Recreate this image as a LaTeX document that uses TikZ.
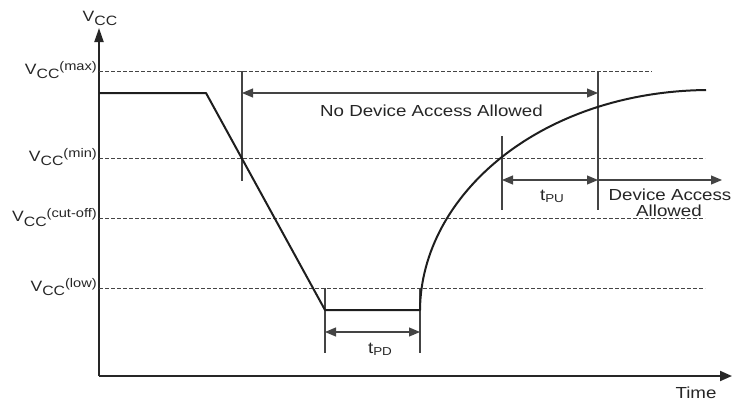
\documentclass[tikz,border=0pt]{standalone}
\usepackage{fontspec}
\setmainfont{Liberation Sans}[FakeStretch=1.17]
\usetikzlibrary{arrows.meta}
\definecolor{txt}{HTML}{262626}
\definecolor{ln}{HTML}{444444}
\definecolor{wave}{HTML}{1E1E1E}
\newcommand\vcclab[1]{V\raisebox{-4.5pt}{\fontsize{13.5}{13.5}\selectfont CC}\raisebox{4pt}{\fontsize{12.5}{12.5}\selectfont #1}}
\newcommand\tlab[1]{t\raisebox{-2.5pt}{\fontsize{11.5}{11.5}\selectfont #1}}
\begin{document}
\begin{tikzpicture}[x=1pt,y=-1pt,
  lab/.style={inner sep=0pt,text=txt,font=\fontsize{16}{17}\selectfont},
  vlab/.style={lab,font=\fontsize{15}{16}\selectfont,anchor=base east},
  axis/.style={line width=2pt,draw=black!85},
  guide/.style={line width=0.9pt,draw=ln,dash pattern=on 4pt off 2pt},
  marker/.style={line width=1.1pt,draw=ln},
  dim/.style={line width=1.1pt,draw=ln},
  tip/.tip={Triangle[length=11pt,width=9pt]},
  wavestyle/.style={line width=2pt,draw=wave,line join=round}]
\useasboundingbox (0,0) rectangle (733,402);
% axes
\coordinate (O) at (99,376);
\coordinate (Ytop) at (99,28);
\coordinate (Xend) at (732,376);
\draw[axis,-{Triangle[length=14pt,width=9pt]}] (O) -- (Ytop);
\draw[axis,-{Triangle[length=12pt,width=10pt]}] (O) -- (Xend);
\node[lab,anchor=base,font=\fontsize{15}{16}\selectfont] (vcc) at (100,21) {\vcclab{}};
\node[lab,anchor=base] (time) at (696,398) {Time};
% guide levels
\coordinate (max0) at (99,71);  \coordinate (max1) at (652,71);
\coordinate (min0) at (99,158); \coordinate (min1) at (705,158);
\coordinate (cut0) at (99,218); \coordinate (cut1) at (705,218);
\coordinate (low0) at (99,288); \coordinate (low1) at (705,288);
\draw[guide] (max0) -- (max1);
\draw[guide] (min0) -- (min1);
\draw[guide] (cut0) -- (cut1);
\draw[guide] (low0) -- (low1);
\node[vlab] (lmax) at (97,74) {\vcclab{(max)}};
\node[vlab] (lmin) at (97,161) {\vcclab{(min)}};
\node[vlab] (lcut) at (97,221.5) {\vcclab{(cut-off)}};
\node[vlab] (llow) at (97,291) {\vcclab{(low)}};
% markers
\coordinate (A0) at (242,71);  \coordinate (A1) at (242,181);
\coordinate (B0) at (598,71);  \coordinate (B1) at (598,210);
\coordinate (C0) at (502,136); \coordinate (C1) at (502,210);
\coordinate (D0) at (325,288); \coordinate (D1) at (325,353);
\coordinate (E0) at (420,288); \coordinate (E1) at (420,353);
\draw[marker] (A0) -- (A1);
\draw[marker] (B0) -- (B1);
\draw[marker] (C0) -- (C1);
\draw[marker] (D0) -- (D1);
\draw[marker] (E0) -- (E1);
% waveform
\coordinate (w0) at (99,93);
\coordinate (w1) at (206,93);
\coordinate (w2) at (325,310);
\coordinate (w3) at (420,310);
\coordinate (w4) at (706,90);
\draw[wavestyle] (w0) -- (w1) -- (w2) -- (w3) .. controls (421,195) and (540,92) .. (w4);
% dimension arrows
\coordinate (na0) at (242,93); \coordinate (na1) at (598,93);
\coordinate (pu0) at (502,180); \coordinate (pu1) at (598,180);
\coordinate (da1) at (722,180);
\coordinate (pd0) at (325,332); \coordinate (pd1) at (420,332);
\draw[dim,{tip}-{tip}] (na0) -- (na1);
\draw[dim,{tip}-{tip}] (pu0) -- (pu1);
\draw[dim,-{tip}] (pu1) -- (da1);
\draw[dim,{tip}-{tip}] (pd0) -- (pd1);
% labels
\node[lab,anchor=base] (nda) at (431.5,116) {No Device Access Allowed};
\node[lab,anchor=base] (tpu) at (552,200) {\tlab{PU}};
\node[lab,anchor=base] (tpd) at (380,353) {\tlab{PD}};
\node[lab,anchor=base] (da) at (670,200) {Device Access};
\node[lab,anchor=base] (da2) at (669,216.5) {Allowed};
\end{tikzpicture}
\end{document}
